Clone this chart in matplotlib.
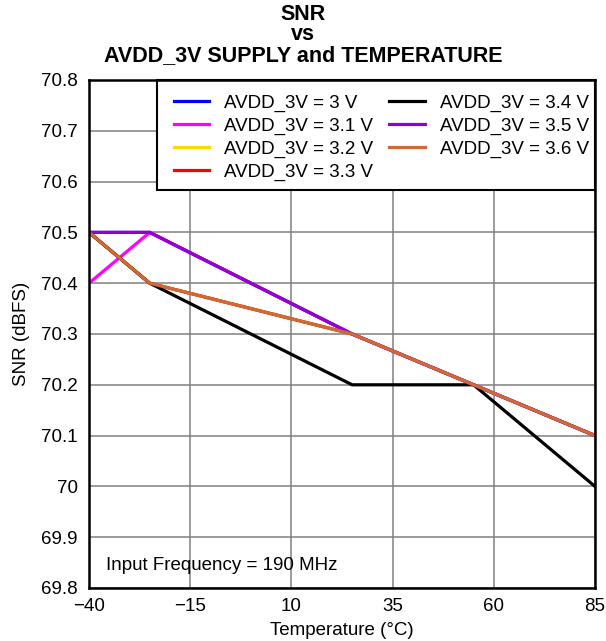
import matplotlib
matplotlib.use("Agg")
import matplotlib.pyplot as plt
from matplotlib.patches import Rectangle

plt.rcParams['font.family'] = ['Liberation Sans', 'DejaVu Sans']

temperature = [-40, -25, 25, 55, 85]
labels = ["AVDD_3V = 3 V", "AVDD_3V = 3.1 V", "AVDD_3V = 3.2 V", "AVDD_3V = 3.3 V",
          "AVDD_3V = 3.4 V", "AVDD_3V = 3.5 V", "AVDD_3V = 3.6 V"]
colors = ["#0000ff", "#ff00ff", "#ffd700", "#ff0000", "#000000", "#9400d3", "#cd6a38"]
snr_30 = [70.5, 70.5, 70.3, 70.2, 70.1]
snr_31 = [70.4, 70.5, 70.3, 70.2, 70.1]
snr_32 = [70.5, 70.4, 70.3, 70.2, 70.1]
snr_33 = [70.5, 70.4, 70.3, 70.2, 70.1]
snr_34 = [70.5, 70.4, 70.2, 70.2, 70.0]
snr_35 = [70.5, 70.5, 70.3, 70.2, 70.1]
snr_36 = [70.5, 70.4, 70.3, 70.2, 70.1]
series = [snr_30, snr_31, snr_32, snr_33, snr_34, snr_35, snr_36]

xticks = [-40, -15, 10, 35, 60, 85]
xtick_labels = ["\u221240", "\u221215", "10", "35", "60", "85"]
yticks = [69.8, 69.9, 70.0, 70.1, 70.2, 70.3, 70.4, 70.5, 70.6, 70.7, 70.8]
ytick_labels = ["69.8", "69.9", "70", "70.1", "70.2", "70.3", "70.4", "70.5", "70.6", "70.7", "70.8"]

FS = 13.5
W, H = 606, 641
AX_L, AX_R, AX_T, AX_B = 89, 595, 80, 588
fig = plt.figure(figsize=(W / 100, H / 100), dpi=100)
ax = fig.add_axes([AX_L / W, 1 - AX_B / H, (AX_R - AX_L) / W, (AX_B - AX_T) / H])

for lab, col, vals in zip(labels, colors, series):
    ax.plot(temperature, vals, color=col, lw=2.3, label=lab, solid_joinstyle='miter')

ax.set_xlim(-40, 85)
ax.set_ylim(69.8, 70.8)
ax.set_xticks(xticks)
ax.set_xticklabels(xtick_labels)
ax.set_yticks(yticks)
ax.set_yticklabels(ytick_labels)
ax.tick_params(axis='x', labelsize=FS, length=0, pad=7)
ax.tick_params(axis='y', labelsize=FS, length=0, pad=8)
ax.grid(True, color="#808080", lw=1.1)
ax.set_axisbelow(True)
for s in ax.spines.values():
    s.set_linewidth(1.8)
    s.set_color("black")
    s.set_zorder(6)

ax.set_xlabel("Temperature (\u00b0C)", fontsize=FS, labelpad=5)
ax.set_ylabel("SNR (dBFS)", fontsize=FS, labelpad=8)

for txt, yp in [("SNR", 14), ("vs", 35), ("AVDD_3V SUPPLY and TEMPERATURE", 56)]:
    fig.text(0.5, 1 - yp / H, txt, ha="center", va="center", fontsize=15.5, fontweight="bold")

ax.text(-35.8, 69.845, "Input Frequency = 190 MHz", fontsize=FS, ha="left", va="center")

# legend frame (pixel box 157..595 x 80..190)
fx0 = (157 - AX_L) / (AX_R - AX_L)
fy0 = (AX_B - 190) / (AX_B - AX_T)
frame = Rectangle((fx0, fy0), 1 - fx0, 1 - fy0, transform=ax.transAxes, facecolor="white",
                  edgecolor="black", lw=1.5, zorder=4.5, clip_on=False)
ax.add_patch(frame)

leg = ax.legend(loc="upper left", bbox_to_anchor=((168 - AX_L) / (AX_R - AX_L), 1 - 9 / (AX_B - AX_T)),
                ncol=2, fontsize=FS, frameon=False, borderaxespad=0.0, borderpad=0.3,
                handlelength=1.9, columnspacing=0.85, labelspacing=0.3, handletextpad=0.8)
leg.set_zorder(5)

fig.savefig("out.png", dpi=100)
